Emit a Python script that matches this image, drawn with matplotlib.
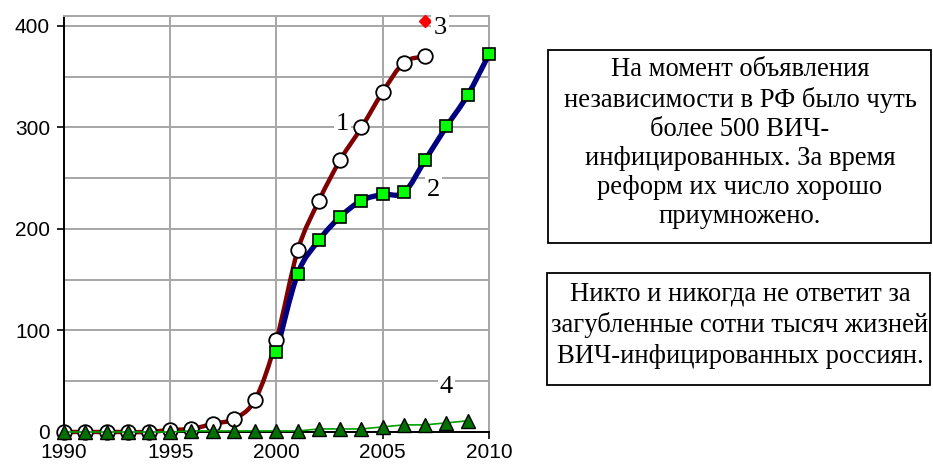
import numpy as np
import matplotlib
matplotlib.use('Agg')
import matplotlib.pyplot as plt
from matplotlib.path import Path
from matplotlib.patches import PathPatch, Rectangle

# series 1: white circles, dark red smoothed line
years1 = [1990, 1991, 1992, 1993, 1994, 1995, 1996, 1997, 1998, 1999,
          2000, 2001, 2002, 2003, 2004, 2005, 2006, 2007]
vals1 = [0, 0, 0, 0, 0, 2, 3, 8, 13, 32, 91, 179, 228, 268, 300, 335, 364, 370]

# series 2: green squares, navy smoothed line
years2 = [2000, 2001, 2002, 2003, 2004, 2005, 2006, 2007, 2008, 2009, 2010]
vals2 = [79, 156, 189, 212, 228, 234, 236, 268, 301, 332, 372]

# series 3: single red diamond
years3 = [2007]
vals3 = [405]

# series 4: dark green triangles, thin green line
years4 = [1990, 1991, 1992, 1993, 1994, 1995, 1996, 1997, 1998, 1999,
          2000, 2001, 2002, 2003, 2004, 2005, 2006, 2007, 2008, 2009]
vals4 = [0, 0, 0, 0, 0, 0, 1, 1, 1, 1, 1, 1, 3, 3, 3, 5, 7, 7, 9, 11]

labels = ['1', '2', '3', '4']
label_pos = [(2003.1, 303), (2007.4, 238), (2007.7, 398), (2008.0, 44)]

note1 = ("На момент объявления\nнезависимости в РФ было чуть\nболее 500 ВИЧ-\n"
         "инфицированных. За время\nреформ их число хорошо\nприумножено.")
note2 = ("Никто и никогда не ответит за\nзагубленные сотни тысяч жизней\n"
         "ВИЧ-инфицированных россиян.")


def smooth_path(xs, ys):
    # catmull-rom segments as cubic bezier, like excel's smoothed line
    p = np.column_stack([xs, ys]).astype(float)
    verts = [p[0]]
    codes = [Path.MOVETO]
    n = len(p)
    for i in range(n - 1):
        p0 = p[i - 1] if i > 0 else p[i]
        p1 = p[i]
        p2 = p[i + 1]
        p3 = p[i + 2] if i + 2 < n else p[i + 1]
        c1 = p1 + (p2 - p0) / 6.0
        c2 = p2 - (p3 - p1) / 6.0
        verts += [c1, c2, p2]
        codes += [Path.CURVE4] * 3
    return Path(verts, codes)


fig = plt.figure(figsize=(9.33, 4.66), dpi=100)
ax = fig.add_axes([0.0686, 0.073, 0.4555, 0.893])

ax.set_xlim(1990, 2010)
ax.set_ylim(0, 410)
ax.set_xticks([1990, 1995, 2000, 2005, 2010])
ax.set_yticks([0, 100, 200, 300, 400])
ax.set_yticks([50, 150, 250, 350], minor=True)
ax.grid(True, which='both', color='#a6a6a6', linewidth=1.4, zorder=0)
ax.set_axisbelow(True)
ax.tick_params(axis='both', which='major', labelsize=15, length=5, width=1.2, direction='out')
ax.tick_params(axis='y', which='major', pad=5)
ax.tick_params(axis='x', which='major', pad=3)
ax.tick_params(axis='y', which='minor', length=0)
for lab in ax.get_xticklabels() + ax.get_yticklabels():
    lab.set_fontfamily('Liberation Sans')

ax.spines['left'].set_color('black')
ax.spines['left'].set_linewidth(1.4)
ax.spines['bottom'].set_color('black')
ax.spines['bottom'].set_linewidth(1.4)
ax.spines['top'].set_color('#a6a6a6')
ax.spines['top'].set_linewidth(1.4)
ax.spines['right'].set_color('#a6a6a6')
ax.spines['right'].set_linewidth(1.4)

ax.add_patch(PathPatch(smooth_path(years1, vals1), facecolor='none', edgecolor='#800000',
                       linewidth=3.2, zorder=3, clip_on=False))
ax.plot(years1, vals1, linestyle='none', marker='o', markersize=10.5,
        markerfacecolor='white', markeredgecolor='black', markeredgewidth=1.3,
        zorder=4, clip_on=False)

ax.add_patch(PathPatch(smooth_path(years2, vals2), facecolor='none', edgecolor='#000080',
                       linewidth=3.8, zorder=3, clip_on=False))
ax.plot(years2, vals2, linestyle='none', marker='s', markersize=8,
        markerfacecolor='#00ff00', markeredgecolor='black', markeredgewidth=1.2,
        zorder=4, clip_on=False)

ax.plot(years3, vals3, linestyle='none', marker='D', markersize=6,
        markerfacecolor='#ff0000', markeredgecolor='#ff0000', zorder=5, clip_on=False)

ax.plot(years4, vals4, color='#00a000', linewidth=1.2, marker='^', markersize=9.5,
        markerfacecolor='#007000', markeredgecolor='black', markeredgewidth=1.0,
        zorder=5, clip_on=False)

for lab, (lx, ly) in zip(labels, label_pos):
    ax.text(lx, ly, lab, fontsize=19, family='Liberation Serif', ha='center', va='center',
            zorder=6, bbox=dict(facecolor='white', edgecolor='none', pad=1.5))

# text boxes on the right
fig.patches.append(Rectangle((548 / 933, 1 - 243 / 466), 383 / 933, 193 / 466,
                             transform=fig.transFigure, facecolor='white',
                             edgecolor='black', linewidth=1.3))
fig.text(740 / 933, 1 - 143 / 466, note1, ha='center', va='center', fontsize=19.2,
         family='Liberation Serif', linespacing=1.21)

fig.patches.append(Rectangle((547 / 933, 1 - 385 / 466), 383 / 933, 112 / 466,
                             transform=fig.transFigure, facecolor='white',
                             edgecolor='black', linewidth=1.3))
fig.text(740 / 933, 1 - 325 / 466, note2, ha='center', va='center', fontsize=19.2,
         family='Liberation Serif', linespacing=1.29)

fig.savefig('out.png', dpi=100)
